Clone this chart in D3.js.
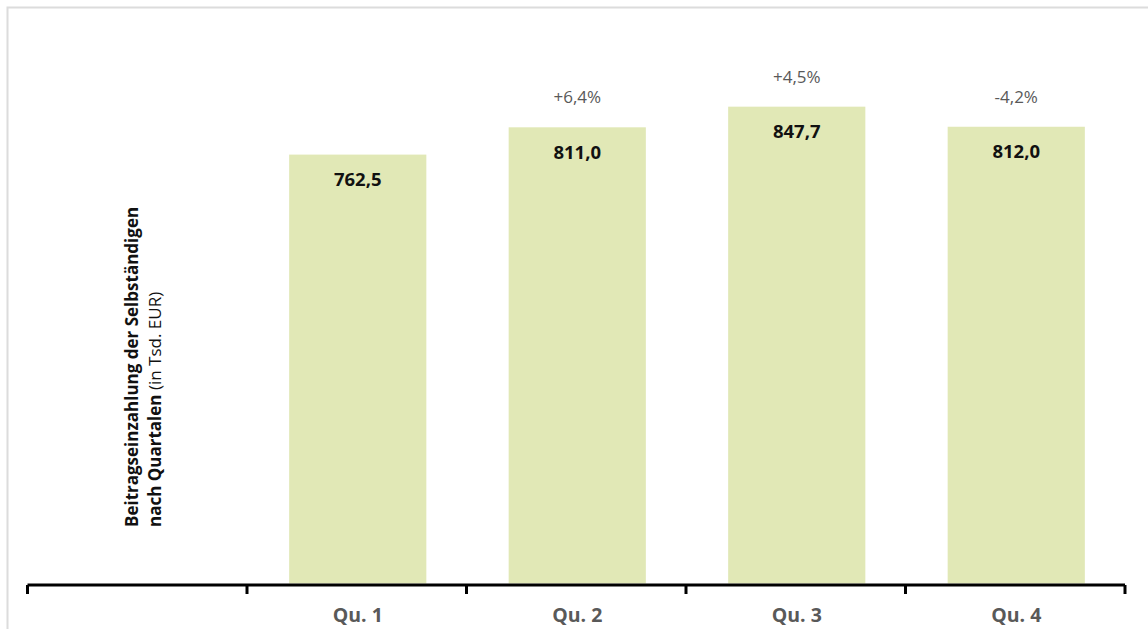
<!DOCTYPE html>
<html lang="de">
<head>
    <meta charset="UTF-8">
    <title>Beitragseinzahlung nach Quartalen</title>
    <script src="https://d3js.org/d3.v7.min.js"></script>
    <style>
        body { margin: 0; background: #fff; }
        svg { display: block; font-family: "Open Sans", Lato, sans-serif; }
        .bar { fill: #e1e8b6; }
        .val { font-weight: bold; font-size: 18.5px; fill: #111; }
        .pct { font-size: 17px; fill: #595959; }
        .cat { font-weight: bold; font-size: 19.5px; fill: #595959; }
        .ytitle { font-size: 17px; fill: #111; }
    </style>
</head>
<body>
    <svg id="chart"></svg>
    <script>
        const categories = ["", "Qu. 1", "Qu. 2", "Qu. 3", "Qu. 4"];
        const values = [null, 762.5, 811.0, 847.7, 812.0];
        const changes = [null, null, "+6,4%", "+4,5%", "-4,2%"];

        const width = 1148, height = 629;
        const baseY = 583.5;

        const svg = d3.select("#chart")
            .attr("width", width)
            .attr("height", height);

        // outer frame
        svg.append("rect")
            .attr("x", 7.5).attr("y", 7.5)
            .attr("width", width + 20).attr("height", height + 20)
            .attr("fill", "none")
            .attr("stroke", "#dcdcdc")
            .attr("stroke-width", 2);

        const x = d3.scaleBand().domain(categories).range([27.5, 1125]).padding(0);
        const y = d3.scaleLinear().domain([0, 1000]).range([baseY, 21]);

        const barW = x.bandwidth() * 0.625;
        const data = categories.map((c, i) => ({ cat: c, value: values[i], change: changes[i] }))
            .filter(d => d.value != null);
        const cx = d => x(d.cat) + x.bandwidth() / 2;

        svg.selectAll("rect.bar")
            .data(data)
            .join("rect")
            .attr("class", "bar")
            .attr("x", d => cx(d) - barW / 2 + 1)
            .attr("y", d => y(d.value))
            .attr("width", barW)
            .attr("height", d => baseY - y(d.value));

        // value labels inside bars
        svg.selectAll("text.val")
            .data(data)
            .join("text")
            .attr("class", "val")
            .attr("x", d => cx(d) + 1)
            .attr("y", d => y(d.value) + 25)
            .attr("dy", "0.35em")
            .attr("text-anchor", "middle")
            .text(d => d3.format(".1f")(d.value).replace(".", ","));

        // change vs previous quarter
        svg.selectAll("text.pct")
            .data(data.filter(d => d.change))
            .join("text")
            .attr("class", "pct")
            .attr("x", d => cx(d) + 1)
            .attr("y", d => y(d.value) - 30)
            .attr("dy", "0.35em")
            .attr("text-anchor", "middle")
            .text(d => d.change);

        // x axis with ticks at band edges
        const edges = categories.map(c => x(c)).concat(x.range()[1]);
        svg.append("line")
            .attr("x1", edges[0]).attr("x2", edges[edges.length - 1])
            .attr("y1", 585).attr("y2", 585)
            .attr("stroke", "#000").attr("stroke-width", 3);
        svg.selectAll("line.tick")
            .data(edges)
            .join("line")
            .attr("class", "tick")
            .attr("x1", d => d).attr("x2", d => d)
            .attr("y1", 585).attr("y2", 594)
            .attr("stroke", "#000").attr("stroke-width", 3);

        svg.selectAll("text.cat")
            .data(categories.filter(c => c))
            .join("text")
            .attr("class", "cat")
            .attr("x", d => x(d) + x.bandwidth() / 2 + 1)
            .attr("y", 615)
            .attr("dy", "0.35em")
            .attr("text-anchor", "middle")
            .text(d => d);

        // y axis title
        const yt = svg.append("text")
            .attr("class", "ytitle")
            .attr("transform", "translate(132,527) rotate(-90)");
        yt.append("tspan").attr("x", 0).attr("dy", "0.35em")
            .attr("font-weight", "bold")
            .text("Beitragseinzahlung der Selbständigen");
        const l2 = yt.append("tspan").attr("x", 0).attr("dy", 23);
        l2.append("tspan").attr("font-weight", "bold").text("nach Quartalen");
        l2.append("tspan").text(" (in Tsd. EUR)");
    </script>
</body>
</html>
